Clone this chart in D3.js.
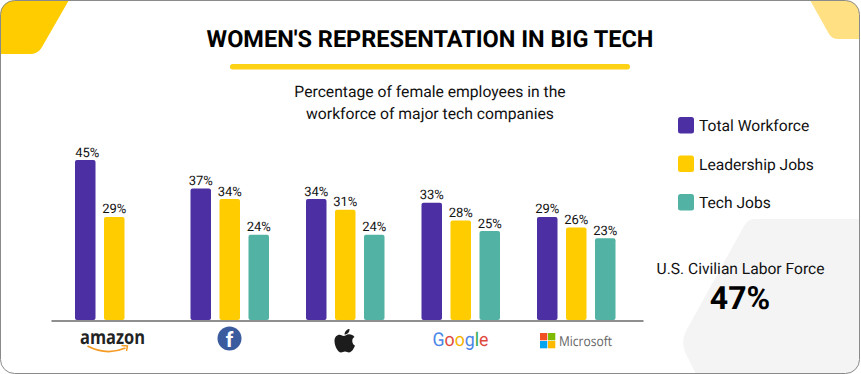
<!DOCTYPE html>
<html><head><meta charset="utf-8">
<script src="https://cdn.jsdelivr.net/npm/d3@7/dist/d3.min.js"></script>
<style>html,body{margin:0;padding:0;background:#fff}svg{display:block}text{font-family:Roboto,sans-serif;fill:#111;text-rendering:geometricPrecision}</style>
</head><body><svg id="c" width="861" height="374"></svg>
<script>
const companies = ["Amazon","Facebook","Apple","Google","Microsoft"];
const seriesNames = ["Total Workforce","Leadership Jobs","Tech Jobs"];
const seriesColors = ["#4b2fa3","#ffcc00","#52b3a4"];
const totalWorkforce = [45,37,34,33,29];
const leadershipJobs = [29,34,31,28,26];
const techJobs = [null,24,24,25,23];
const allSeries = [totalWorkforce,leadershipJobs,techJobs];
const titleText = "WOMEN'S REPRESENTATION IN BIG TECH";
const subtitleLines = ["Percentage of female employees in the","workforce of major tech companies"];
const laborLabel = "U.S. Civilian Labor Force";
const laborValue = 47;

const svg = d3.select("#c");
const defs = svg.append("defs");
defs.append("clipPath").attr("id","frame").append("rect").attr("x",.5).attr("y",.5).attr("width",859).attr("height",373).attr("rx",14);
const deco = svg.append("g").attr("clip-path","url(#frame)");
deco.append("rect").attr("width",861).attr("height",374).attr("fill","#fff");
deco.append("path").attr("d","M0 0H69L42 47Q38 54 31 54H0Z").attr("fill","#ffcc00");
deco.append("path").attr("d","M810 0H861V39H838Q832 39 829 34Z").attr("fill","#ffe083");
deco.append("path").attr("d","M754 219H861V374H696L685 352Q681 341 686 331L744 226Q748 219 754 219Z").attr("fill","#f4f4f5");
svg.append("rect").attr("x",.5).attr("y",.5).attr("width",859).attr("height",373).attr("rx",14).attr("fill","none").attr("stroke","#8a8a8a").attr("stroke-width",1);

svg.append("text").attr("x",430).attr("y",47).attr("text-anchor","middle").attr("font-size",23.5).attr("font-weight",700).style("fill","#000").text(titleText);
svg.append("rect").attr("x",230).attr("y",64).attr("width",400).attr("height",5.5).attr("rx",2.7).attr("fill","#fdd116");
subtitleLines.forEach((t,i)=>svg.append("text").attr("x",430).attr("y",97+i*22).attr("text-anchor","middle").attr("font-size",15.7).text(t));

const x0 = d3.scaleBand().domain(companies).range([75,75+115.5*5]);
const x1 = d3.scaleBand().domain(seriesNames).range([0,78.5]).paddingInner(.293);
const y = d3.scaleLinear().domain([0,45]).range([320,160]);

const bars = svg.append("g");
allSeries.forEach((vals,s)=>{
  const g = bars.append("g");
  const rows = companies.map((c,i)=>({c,v:vals[i]})).filter(d=>d.v!=null);
  const pos = d=>x0(d.c)+x1(seriesNames[s]);
  g.selectAll("path").data(rows).join("path").attr("fill",seriesColors[s])
    .attr("d",d=>{const a=pos(d),b=a+x1.bandwidth(),t=y(d.v),r=2,bt=y(0);
      return `M${a} ${bt-r}V${t+r}Q${a} ${t} ${a+r} ${t}H${b-r}Q${b} ${t} ${b} ${t+r}V${bt-r}Q${b} ${bt} ${b-r} ${bt}H${a+r}Q${a} ${bt} ${a} ${bt-r}Z`;});
  g.selectAll("text").data(rows).join("text").attr("x",d=>pos(d)+x1.bandwidth()/2+(d.c==="Amazon"&&s===0?2:0)).attr("y",d=>y(d.v)-3.5)
    .attr("text-anchor","middle").attr("font-size",13).text(d=>d.v+"%");
});

const axis = svg.append("g").attr("transform","translate(0,320.5)")
  .call(d3.axisBottom(d3.scaleLinear().domain([0,1]).range([51,643])).tickValues([]).tickSizeOuter(0));
axis.select(".domain").attr("stroke","#6a6a6a").attr("stroke-width",1.3);

// Company logos
const cx = c=>x0(c)+39;
const logos = svg.append("g");
// Amazon
const az = logos.append("g").attr("transform",`translate(${cx("Amazon")-1.5},0)`);
az.append("text").attr("x",0).attr("y",344).attr("text-anchor","middle").attr("font-size",19.5).attr("font-weight",700).attr("textLength",65).attr("lengthAdjust","spacingAndGlyphs").style("font-family","'Open Sans',sans-serif").style("fill","#222").text("amazon");
az.append("path").attr("d","M-25 346Q-6 356 13 348").attr("fill","none").attr("stroke","#f59a23").attr("stroke-width",1.8);
az.append("path").attr("d","M9 345.5L15 346L14 351").attr("fill","none").attr("stroke","#f59a23").attr("stroke-width",1.4);
// Facebook
const fb = logos.append("g").attr("transform",`translate(${cx("Facebook")},338.5)`);
fb.append("circle").attr("r",12).attr("fill","#3b5b9f");
fb.append("text").attr("x",0).attr("y",8.5).attr("text-anchor","middle").attr("font-size",21).attr("font-weight",700).style("fill","#fff").text("f");
// Apple
const ap = logos.append("g").attr("transform",`translate(${cx("Apple")},341.5)`);
ap.append("path").attr("fill","#1c1c1c").attr("d","M-3 -6C-6 -8 -10.5 -6 -10.5 -0.5C-10.5 5 -7 11 -4 11C-2.5 11 -1.5 10 0 10C1.5 10 2.5 11 4 11C6.5 11 9 7 10 4C7 3 6 -3 9.5 -4.5C7.5 -7.5 3 -8 0.5 -6C-0.5 -5.5 -2 -5.5 -3 -6Z");
ap.append("path").attr("fill","#1c1c1c").attr("d","M-0.5 -7C-0.5 -10 2 -12.5 4.5 -12.5C4.7 -9.5 2.5 -7 -0.5 -7Z");
// Google
const gLetters = ["G","o","o","g","l","e"], gColors=["#4a86e8","#e0483e","#f4b400","#4a86e8","#34a853","#e0483e"];
const gt = logos.append("text").attr("x",cx("Google")).attr("y",345.5).attr("text-anchor","middle").attr("font-size",19).attr("font-weight",400).attr("textLength",56).attr("lengthAdjust","spacingAndGlyphs").style("font-family","Roboto,sans-serif");
gLetters.forEach((l,i)=>gt.append("tspan").style("fill",gColors[i]).text(l));
// Microsoft
const ms = logos.append("g").attr("transform",`translate(${cx("Microsoft")},0)`);
[["#f25022",-36,333],["#7fba00",-28,333],["#00a4ef",-36,341],["#ffb900",-28,341]].forEach(([c,a,b])=>ms.append("rect").attr("x",a).attr("y",b).attr("width",7.3).attr("height",7.3).attr("fill",c));
ms.append("text").attr("x",-17).attr("y",345.5).attr("font-size",13.5).attr("font-weight",500).attr("textLength",53).attr("lengthAdjust","spacingAndGlyphs").style("font-family","'Open Sans',sans-serif").style("fill","#666").text("Microsoft");

// Legend
const leg = svg.append("g").selectAll("g").data(seriesNames).join("g").attr("transform",(d,i)=>`translate(678,${117+i*38.5})`);
leg.append("rect").attr("width",16).attr("height",16.5).attr("rx",2.5).attr("fill",(d,i)=>seriesColors[i]);
leg.append("text").attr("x",21).attr("y",14).attr("font-size",15.6).text(d=>d);

svg.append("text").attr("x",740.5).attr("y",274).attr("text-anchor","middle").attr("font-size",15.6).text(laborLabel);
svg.append("text").attr("x",740).attr("y",309).attr("text-anchor","middle").attr("font-size",32).attr("font-weight",700).style("fill","#000").text(laborValue+"%");
</script></body></html>
